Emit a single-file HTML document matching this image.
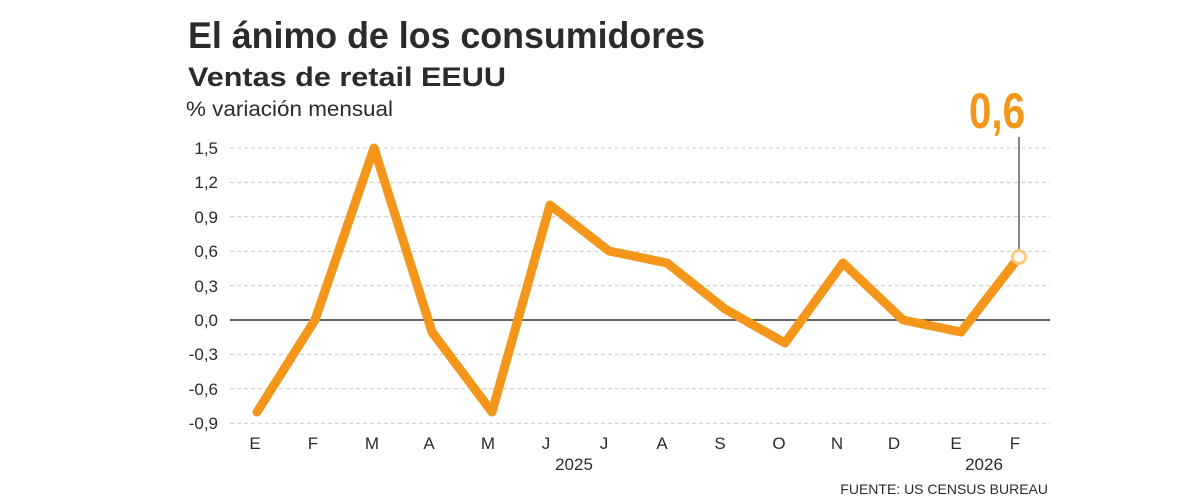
<!DOCTYPE html>
<html><head><meta charset="utf-8"><style>
body{margin:0;background:#fff;}
svg{display:block;font-family:"Liberation Sans",sans-serif;}
</style></head><body>
<svg width="1200" height="502" viewBox="0 0 1200 502">
<text x="188" y="48" font-size="37" font-weight="bold" fill="#2b2b2b" textLength="517" lengthAdjust="spacingAndGlyphs">El ánimo de los consumidores</text>
<text x="188" y="86" font-size="27" font-weight="bold" fill="#2b2b2b" textLength="318" lengthAdjust="spacingAndGlyphs">Ventas de retail EEUU</text>
<text x="186" y="116" font-size="21" fill="#2b2b2b" textLength="207" lengthAdjust="spacingAndGlyphs">% variación mensual</text>
<g stroke="#c8c8c8" stroke-width="1" stroke-dasharray="4,3">
<line x1="230" x2="1050" y1="148" y2="148"/>
<line x1="230" x2="1050" y1="182.4" y2="182.4"/>
<line x1="230" x2="1050" y1="216.8" y2="216.8"/>
<line x1="230" x2="1050" y1="251.2" y2="251.2"/>
<line x1="230" x2="1050" y1="285.6" y2="285.6"/>
<line x1="230" x2="1050" y1="354.4" y2="354.4"/>
<line x1="230" x2="1050" y1="388.8" y2="388.8"/>
<line x1="230" x2="1050" y1="423.2" y2="423.2"/>
</g>
<line x1="230" x2="1050" y1="320" y2="320" stroke="#333" stroke-width="1.5"/>
<g font-size="17" fill="#2b2b2b" text-anchor="end">
<text x="218" y="154">1,5</text><text x="218" y="188">1,2</text><text x="218" y="223">0,9</text>
<text x="218" y="257">0,6</text><text x="218" y="292">0,3</text><text x="218" y="326">0,0</text>
<text x="218" y="360">-0,3</text><text x="218" y="395">-0,6</text><text x="218" y="429">-0,9</text>
</g>
<g font-size="17" fill="#2b2b2b" text-anchor="middle">
<text x="255" y="449">E</text><text x="313" y="449">F</text><text x="372" y="449">M</text><text x="429" y="449">A</text>
<text x="488" y="449">M</text><text x="546" y="449">J</text><text x="604" y="449">J</text><text x="662" y="449">A</text>
<text x="720" y="449">S</text><text x="779" y="449">O</text><text x="837" y="449">N</text><text x="894" y="449">D</text>
<text x="956" y="449">E</text><text x="1015" y="449">F</text>
<text x="574" y="470">2025</text><text x="984" y="470">2026</text>
</g>
<text x="1048" y="494" font-size="14" fill="#2b2b2b" text-anchor="end">FUENTE: US CENSUS BUREAU</text>
<line x1="1019" x2="1019" y1="137" y2="250" stroke="#333" stroke-width="1.2"/>
<polyline fill="none" stroke="#f39619" stroke-width="9" stroke-linejoin="round" stroke-linecap="round"
points="257,412 315,320 374,148 432,332 492,412 550,205 609,251 667,263 725,309 785,343 843,263 903,320 961,332 1019,257"/>
<circle cx="1019" cy="257" r="6.5" fill="#fff" stroke="#fdc97a" stroke-width="3"/>
<text x="997" y="128" font-size="50" font-weight="bold" fill="#f39619" text-anchor="middle" textLength="56" lengthAdjust="spacingAndGlyphs">0,6</text>
</svg>
</body></html>
